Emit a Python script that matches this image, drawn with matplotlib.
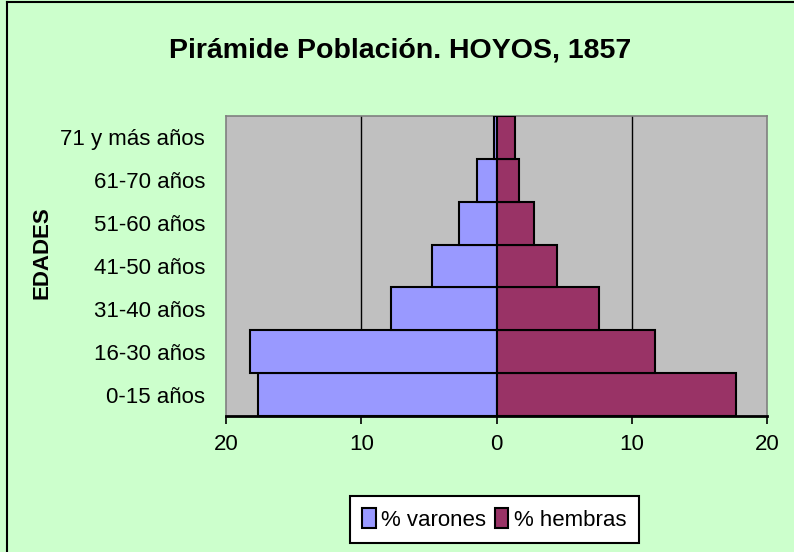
"""
Pirámide de población, Hoyos 1857
"""

import matplotlib
matplotlib.use("Agg")
import matplotlib.pyplot as plt
from matplotlib.lines import Line2D
from matplotlib import font_manager

edades = ["0-15 años", "16-30 años", "31-40 años", "41-50 años",
          "51-60 años", "61-70 años", "71 y más años"]
varones = [17.6, 18.2, 7.8, 4.8, 2.8, 1.45, 0.2]
hembras = [17.7, 11.7, 7.6, 4.5, 2.8, 1.7, 1.35]
x_ticks = [-20, -10, 0, 10, 20]

names = {f.name for f in font_manager.fontManager.ttflist}
narrow = "Liberation Sans Narrow" if "Liberation Sans Narrow" in names else "Liberation Sans"
plt.rcParams["font.family"] = [narrow, "DejaVu Sans"]

fig = plt.figure(figsize=(7.94, 5.52), dpi=100, facecolor="#CCFFCC")
# chart border (only left and top visible in the crop)
fig.lines.append(Line2D([7 / 794, 7 / 794], [0, 1 - 2 / 552], transform=fig.transFigure,
                        color="black", linewidth=1.5))
fig.lines.append(Line2D([7 / 794, 1], [1 - 2 / 552, 1 - 2 / 552], transform=fig.transFigure,
                        color="black", linewidth=1.5))

ax = fig.add_axes([226 / 794, 1 - 416 / 552, 541 / 794, 300 / 552])
ax.set_facecolor("#C0C0C0")

y = list(range(len(edades)))
ax.barh(y, [-v for v in varones], height=1.0, color="#9999FF",
        edgecolor="black", linewidth=1.5, label="% varones", zorder=3)
ax.barh(y, hembras, height=1.0, color="#993366",
        edgecolor="black", linewidth=1.5, label="% hembras", zorder=3)

ax.set_xlim(-20, 20)
ax.set_ylim(-0.5, len(edades) - 0.5)
for xv in (-10, 10):
    ax.axvline(xv, color="black", linewidth=1, zorder=1)

ax.set_xticks(x_ticks)
ax.set_xticklabels([str(abs(t)) for t in x_ticks], fontsize=16)
ax.tick_params(axis="x", direction="out", length=6, width=1.2, pad=7)
ax.set_yticks(y)
ax.set_yticklabels(edades, fontsize=16)
ax.tick_params(axis="y", length=0, pad=15)

for side in ("top", "right", "left"):
    ax.spines[side].set_color("#808080")
    ax.spines[side].set_linewidth(1.2)
ax.spines["bottom"].set_linewidth(2)

fig.text(42 / 794, 1 - 253 / 552, "EDADES", rotation=90, ha="center", va="center",
         fontsize=16, fontweight="bold", family="Liberation Sans")

fig.text(400 / 794, 1 - 50 / 552, "Pirámide Población. HOYOS, 1857", ha="center",
         va="center", fontsize=20.5, fontweight="bold")

leg = ax.legend(loc="center", bbox_to_anchor=(0.496, -0.345), ncol=2, fontsize=16,
                frameon=True, fancybox=False, edgecolor="black", framealpha=1,
                handlelength=0.6, handleheight=1.0, handletextpad=0.25,
                columnspacing=0.4, borderpad=0.55, borderaxespad=0)
leg.get_frame().set_linewidth(1.5)

fig.savefig("out.png", dpi=100, facecolor=fig.get_facecolor())
